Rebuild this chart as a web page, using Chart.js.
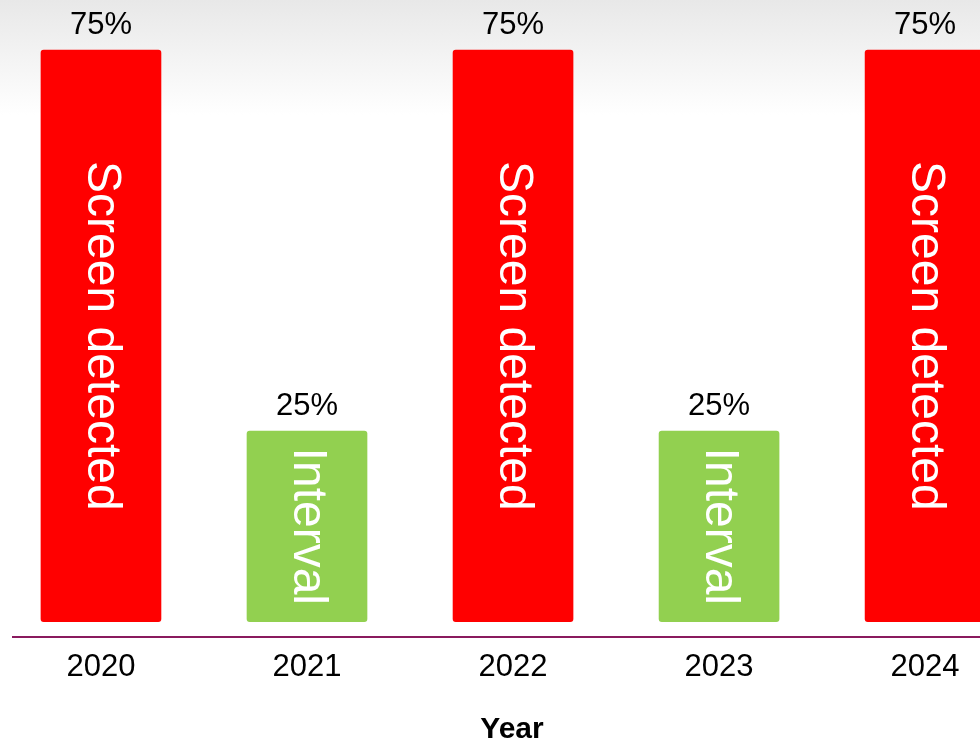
<!DOCTYPE html>
<html lang="en">
<head>
    <meta charset="UTF-8">
    <title>Screen detected vs Interval</title>
    <script src="https://cdn.jsdelivr.net/npm/chart.js"></script>
    <style>
        html, body {
            margin: 0;
            padding: 0;
            width: 980px;
            height: 742px;
            overflow: hidden;
            background: #fff;
        }
        #shareChart {
            display: block;
            width: 1011px;
            height: 742px;
        }
    </style>
</head>
<body>
    <canvas id="shareChart" width="1011" height="742"></canvas>

    <script>
        // chart data
        const years = [2020, 2021, 2022, 2023, 2024];
        const shares = [75, 25, 75, 25, 75];
        const barLabels = ['Screen detected', 'Interval', 'Screen detected', 'Interval', 'Screen detected'];
        const barColors = ['#ff0000', '#92d050', '#ff0000', '#92d050', '#ff0000'];

        const fontFamily = "'Liberation Sans', Arial, sans-serif";

        // light grey fade behind the top of the chart
        const backdrop = {
            id: 'backdrop',
            beforeDraw(chart) {
                const ctx = chart.ctx;
                const g = ctx.createLinearGradient(0, 0, 0, 115);
                g.addColorStop(0, '#e8e8e8');
                g.addColorStop(1, '#ffffff');
                ctx.save();
                ctx.fillStyle = '#ffffff';
                ctx.fillRect(0, 0, chart.width, chart.height);
                ctx.fillStyle = g;
                ctx.fillRect(0, 0, chart.width, 115);
                ctx.restore();
            }
        };

        // value above each bar and rotated name inside it
        const barText = {
            id: 'barText',
            afterDatasetsDraw(chart) {
                const ctx = chart.ctx;
                const meta = chart.getDatasetMeta(0);
                ctx.save();
                meta.data.forEach((bar, i) => {
                    ctx.fillStyle = '#000';
                    ctx.font = '31px ' + fontFamily;
                    ctx.textAlign = 'center';
                    ctx.textBaseline = 'alphabetic';
                    ctx.fillText(shares[i] + '%', bar.x, bar.y - 16);

                    ctx.save();
                    ctx.translate(bar.x, (bar.y + bar.base) / 2);
                    ctx.rotate(Math.PI / 2);
                    ctx.fillStyle = '#fff';
                    ctx.font = '48px ' + fontFamily;
                    ctx.textBaseline = 'middle';
                    ctx.fillText(barLabels[i], 0, 0);
                    ctx.restore();
                });
                ctx.restore();
            }
        };

        const ctx = document.getElementById('shareChart').getContext('2d');
        new Chart(ctx, {
            type: 'bar',
            data: {
                datasets: [{
                    data: years.map((y, i) => ({ x: y, y: shares[i] })),
                    backgroundColor: barColors,
                    barThickness: 120,
                    borderRadius: 3,
                    borderSkipped: false
                }]
            },
            options: {
                responsive: false,
                animation: false,
                layout: {
                    padding: { top: 12, left: 13, right: 0, bottom: 0 }
                },
                plugins: {
                    legend: { display: false },
                    tooltip: { enabled: false }
                },
                scales: {
                    x: {
                        type: 'linear',
                        bounds: 'data',
                        offset: false,
                        min: 2019.573,
                        max: 2024.417,
                        afterBuildTicks: scale => {
                            scale.ticks = years.map(v => ({ value: v }));
                        },
                        grid: { display: false, drawTicks: false, offset: false },
                        border: { color: '#8a1a5e', width: 2 },
                        ticks: {
                            callback: v => String(v),
                            color: '#000',
                            padding: 12,
                            maxRotation: 0,
                            font: { size: 31, family: fontFamily }
                        },
                        title: {
                            display: true,
                            text: 'Year',
                            color: '#000',
                            padding: { top: 20, bottom: 0 },
                            font: { size: 30, weight: 'bold', family: fontFamily, lineHeight: 0.8 }
                        }
                    },
                    y: {
                        display: false,
                        min: -2,
                        max: 80
                    }
                }
            },
            plugins: [backdrop, barText]
        });
    </script>
</body>
</html>
